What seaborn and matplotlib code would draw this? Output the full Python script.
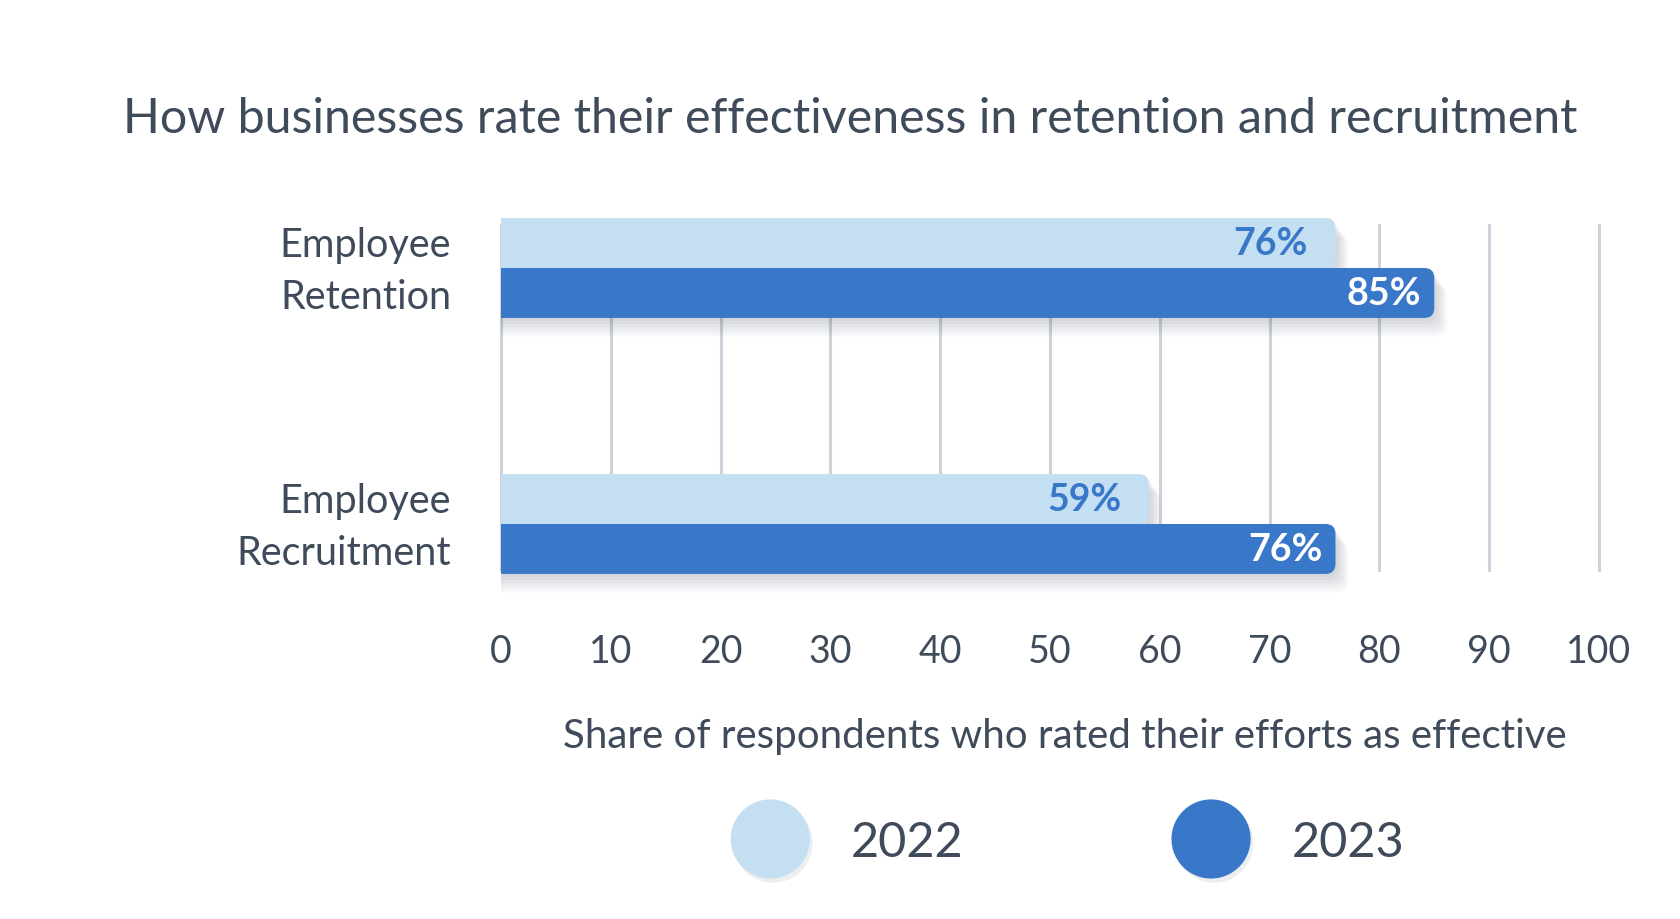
import matplotlib
matplotlib.use("Agg")
import matplotlib.pyplot as plt
import matplotlib.patheffects as pe
import matplotlib.transforms as mtransforms
from matplotlib.patches import FancyBboxPatch, Rectangle
from matplotlib.lines import Line2D
import pandas as pd
import seaborn as sns

# Data
categories = ["Employee\nRetention", "Employee\nRecruitment"]
years = ["2022", "2023"]
values_2022 = [76, 59]
values_2023 = [85, 76]
x_ticks = [0, 10, 20, 30, 40, 50, 60, 70, 80, 90, 100]

df = pd.DataFrame({
    "category": categories * 2,
    "year": [years[0]] * 2 + [years[1]] * 2,
    "share": values_2022 + values_2023,
})

light = "#c5dff2"
dark = "#3977c8"
text_col = "#3f4b5a"
grid_col = "#cdd3da"

sns.set_theme(style="white")
plt.rcParams["font.family"] = ["Lato", "DejaVu Sans"]

W, H = 1680, 920
fig = plt.figure(figsize=(16.8, 9.2), dpi=100)
# x: 0 -> 501px, 100 -> 1599px ; axis padded by 1 unit each side
px_per_unit = 1098 / 100
ax = fig.add_axes([(501 - px_per_unit) / W, 1 - 573 / H, (1098 + 2 * px_per_unit) / W, 348 / H])

sns.barplot(data=df, x="share", y="category", hue="year", orient="h",
            palette=[light, dark], width=0.39, saturation=1, gap=0,
            legend=False, ax=ax)

ax.set_xlim(-1, 101)
ax.set_ylim(1.1875, -0.172)

# rounded right ends + soft shadow
y_px_per_unit = 256
aspect = px_per_unit / y_px_per_unit
clip_rect = Rectangle((0, -1), 120, 3, transform=ax.transData)
shadow = [pe.SimplePatchShadow(offset=(1.5 * k, -2.2 * k), shadow_rgbFace="#1a2a40", alpha=0.03)
          for k in range(1, 7)]
bars = list(ax.patches)
for p in bars:
    x, y, w, h = p.get_x(), p.get_y(), p.get_width(), p.get_height()
    fc = p.get_facecolor()
    p.remove()
    fb = FancyBboxPatch((x - 2, y), w + 2, h,
                        boxstyle="round,pad=0,rounding_size=0.9",
                        mutation_aspect=aspect, fc=fc, ec="none", zorder=3)
    fb.set_path_effects(shadow + [pe.Normal()])
    ax.add_patch(fb)
    fb.set_clip_path(clip_rect)
    is_light = abs(fc[0] - matplotlib.colors.to_rgba(light)[0]) < 0.02
    pad = 2.5 if is_light else 1.2
    ax.text(x + w - pad, y + h / 2, f"{w:.0f}%", ha="right", va="center",
            fontsize=27, fontweight="bold", color=dark if is_light else "white", zorder=5)

ax.set_xticks(x_ticks)
ax.grid(axis="x", color=grid_col, linewidth=2.2)
ax.grid(axis="y", visible=False)
ax.set_axisbelow(True)
for s in ax.spines.values():
    s.set_visible(False)

ax.tick_params(axis="x", length=0, pad=44, labelsize=27, labelcolor=text_col)
ax.tick_params(axis="y", length=0, pad=28, labelsize=28.5, labelcolor=text_col)
shift_up = mtransforms.ScaledTranslation(0, 9 / 100, fig.dpi_scale_trans)
for lbl in ax.get_yticklabels():
    lbl.set_linespacing(1.53)
    lbl.set_transform(lbl.get_transform() + shift_up)

ax.set_ylabel("")
ax.set_xlabel("Share of respondents who rated their efforts as effective",
              fontsize=29, color=text_col)
ax.xaxis.set_label_coords((1065 - (501 - px_per_unit)) / (1098 + 2 * px_per_unit), -(737 - 573) / 348)
ax.xaxis.label.set_va("center")

fig.text(123 / W, 1 - 119 / H,
         "How businesses rate their effectiveness in retention and recruitment",
         ha="left", va="center", fontsize=34.8, color=text_col)

handles = [Line2D([], [], marker="o", linestyle="none", markersize=57,
                  markerfacecolor=c, markeredgecolor="none",
                  path_effects=[pe.SimplePatchShadow(offset=(2, -3), shadow_rgbFace="#1a2a40", alpha=0.08), pe.Normal()])
           for c in [light, dark]]
fig.legend(handles, years, loc="center", bbox_to_anchor=(1075 / W, 1 - 843 / H),
           ncol=2, frameon=False, fontsize=35, labelcolor=text_col,
           handlelength=1.0, handletextpad=1.15, columnspacing=4.6, borderpad=0)

fig.savefig("out.png", dpi=100)
